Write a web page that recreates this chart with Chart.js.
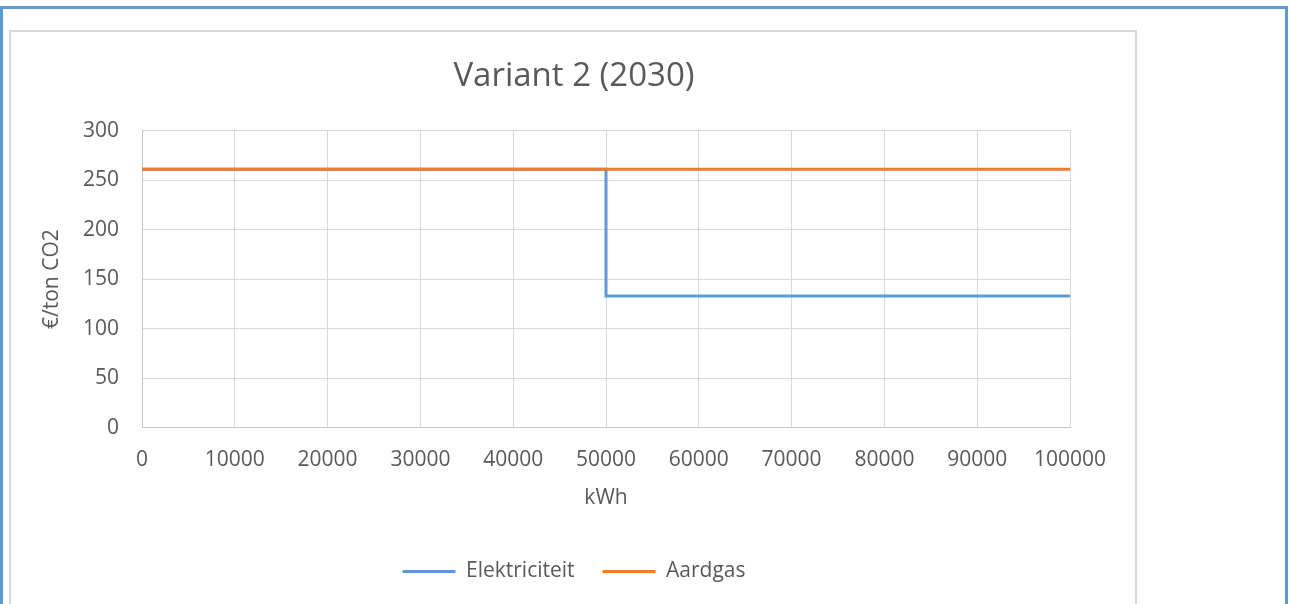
<!DOCTYPE html>
<html>
<head>
<meta charset="utf-8">
<title>Variant 2 (2030)</title>
<script src="https://cdn.jsdelivr.net/npm/chart.js@4"></script>
<style>
    html, body { margin: 0; padding: 0; background: #ffffff; overflow: hidden; }
    .frame {
        position: absolute; left: 0; top: 6px; width: 1282px; height: 620px;
        border: 3px solid #5b9bd5;
    }
    .chart-box {
        position: absolute; left: 9px; top: 30px; width: 1124px; height: 600px;
        border: 2px solid #d9d9d9;
    }
    .chart-wrap { position: absolute; left: 11px; top: 32px; width: 1122px; height: 572px; }
</style>
</head>
<body>
<div class="frame"></div>
<div class="chart-box"></div>
<div class="chart-wrap"><canvas id="variantChart"></canvas></div>
<script>
// values
const kwhPoints = [0, 50000, 50000, 100000];
const elektriciteit = [261, 261, 133, 133];
const aardgas = [261, 261, 261, 261];
const seriesNames = ['Elektriciteit', 'Aardgas'];

const textColor = '#595959';
const gridColor = '#d9d9d9';
const fontFamily = "'Open Sans', 'Liberation Sans', sans-serif";

const toPoints = (values) => kwhPoints.map((x, i) => ({ x: x, y: values[i] }));

const ctx = document.getElementById('variantChart').getContext('2d');
const chart = new Chart(ctx, {
    type: 'line',
    data: {
        datasets: [
            {
                label: seriesNames[0],
                data: toPoints(elektriciteit),
                borderColor: '#5b9bd5',
                backgroundColor: '#5b9bd5',
                borderWidth: 3,
                pointRadius: 0,
                order: 2
            },
            {
                label: seriesNames[1],
                data: toPoints(aardgas),
                borderColor: '#ed7d31',
                backgroundColor: '#ed7d31',
                borderWidth: 3,
                pointRadius: 0,
                order: 1
            }
        ]
    },
    options: {
        responsive: true,
        maintainAspectRatio: false,
        animation: false,
        layout: { padding: { left: 20, right: 16, top: 0, bottom: 12 } },
        plugins: {
            title: {
                display: true,
                text: 'Variant 2 (2030)',
                color: textColor,
                font: { family: fontFamily, size: 33, weight: 'normal' },
                padding: { top: 25, bottom: 34 }
            },
            legend: {
                position: 'bottom',
                labels: {
                    color: textColor,
                    font: { family: fontFamily, size: 21 },
                    boxWidth: 53,
                    boxHeight: 3,
                    padding: 28,
                    sort: (a, b) => a.datasetIndex - b.datasetIndex,
                    generateLabels: (c) => Chart.defaults.plugins.legend.labels.generateLabels(c)
                        .map(item => ({ ...item, lineWidth: 0, fillStyle: item.strokeStyle }))
                }
            },
            tooltip: { enabled: false }
        },
        scales: {
            x: {
                type: 'linear',
                min: 0,
                max: 100000,
                ticks: {
                    stepSize: 10000,
                    color: textColor,
                    font: { family: fontFamily, size: 21 },
                    padding: 20,
                    maxRotation: 0,
                    callback: (v) => String(v)
                },
                grid: { color: gridColor, lineWidth: 1, drawTicks: false },
                border: { color: '#c8c8c8', width: 1 },
                title: {
                    display: true,
                    text: 'kWh',
                    color: textColor,
                    font: { family: fontFamily, size: 21 },
                    padding: { top: -7, bottom: 22 }
                }
            },
            y: {
                min: 0,
                max: 300,
                ticks: {
                    stepSize: 50,
                    color: textColor,
                    font: { family: fontFamily, size: 21 },
                    padding: 23
                },
                grid: { color: gridColor, lineWidth: 1, drawTicks: false },
                border: { color: '#c8c8c8', width: 1 },
                title: {
                    display: true,
                    text: '€/ton CO2',
                    color: textColor,
                    font: { family: fontFamily, size: 21 },
                    padding: { top: 8, bottom: 0 }
                },
                afterFit: (scale) => { scale.width = 111; }
            },
            // empty right-hand axis, only reserves the gap between plot and frame
            yRight: {
                type: 'linear',
                position: 'right',
                min: 0,
                max: 1,
                grid: { display: false, drawOnChartArea: false },
                ticks: { display: false },
                border: { display: false },
                afterFit: (scale) => { scale.width = 47; }
            }
        }
    }
});
</script>
</body>
</html>
